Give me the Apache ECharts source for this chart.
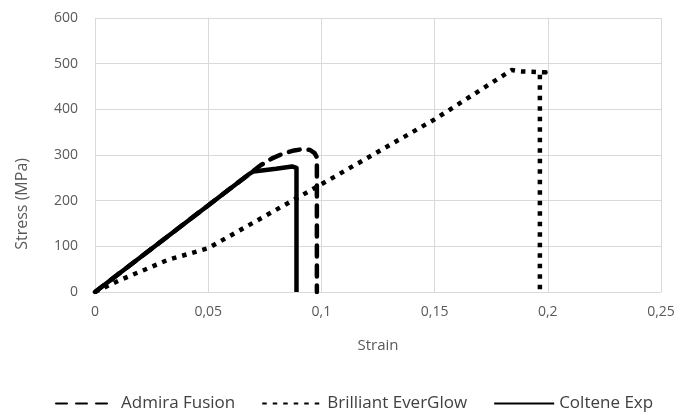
<!DOCTYPE html>
<html>
<head>
<meta charset="utf-8">
<script src="https://cdn.jsdelivr.net/npm/echarts@6/dist/echarts.min.js"></script>
<style>
  html, body { margin: 0; padding: 0; background: #fff; }
  #chart { width: 679px; height: 412px; }
</style>
</head>
<body>
<div id="chart"></div>
<script>
// stress-strain curves
const seriesNames = ['Admira Fusion', 'Brilliant EverGlow', 'Coltene Exp']

const admiraStrain = [0, 0.068, 0.073, 0.078, 0.083, 0.088, 0.092, 0.095, 0.097, 0.098, 0.098]
const admiraStress = [0, 258, 277, 292, 303, 310, 313, 311, 304, 295, 0]

const brilliantStrain = [0, 0.011, 0.023, 0.032, 0.05, 0.1, 0.15, 0.184, 0.188, 0.199, 0.1965, 0.1965]
const brilliantStress = [0, 26, 51, 70, 96, 236, 378, 486, 483, 481, 478, 0]

const colteneStrain = [0, 0.068, 0.07, 0.08, 0.087, 0.089, 0.089]
const colteneStress = [0, 258, 264, 270, 275, 272, 0]

const xTicks = [0, 0.05, 0.1, 0.15, 0.2, 0.25]
const yTicks = [0, 100, 200, 300, 400, 500, 600]

const pairs = (xs, ys) => xs.map((x, i) => [x, ys[i]])

const textColor = '#595959'
const fontFamily = '"Open Sans", "Liberation Sans", sans-serif'

const chart = echarts.init(document.getElementById('chart'), null, { renderer: 'canvas' })

const lineSeries = (name, data, type, cap) => ({
  name: name,
  type: 'line',
  data: data,
  showSymbol: false,
  symbol: 'none',
  smooth: false,
  lineStyle: { color: '#000', width: 4.5, type: type, cap: cap, join: 'round' },
  itemStyle: { color: '#000' }
})

chart.setOption({
  animation: false,
  textStyle: { fontFamily: fontFamily },
  grid: { left: 95, right: 18, top: 18, bottom: 120 },
  xAxis: {
    type: 'value',
    min: xTicks[0],
    max: xTicks[xTicks.length - 1],
    interval: 0.05,
    name: 'Strain',
    nameLocation: 'middle',
    nameGap: 46,
    nameTextStyle: { color: textColor, fontSize: 15 },
    axisLine: { show: true, lineStyle: { color: '#d9d9d9' } },
    axisTick: { show: false },
    axisLabel: {
      color: textColor,
      fontSize: 14,
      margin: 13,
      formatter: v => String(+v.toFixed(2)).replace('.', ',')
    },
    splitLine: { show: true, lineStyle: { color: '#d9d9d9', width: 1 } }
  },
  yAxis: {
    type: 'value',
    min: yTicks[0],
    max: yTicks[yTicks.length - 1],
    interval: 100,
    axisLine: { show: false },
    axisTick: { show: false },
    axisLabel: { color: textColor, fontSize: 14, margin: 17 },
    splitLine: { show: true, lineStyle: { color: '#d9d9d9', width: 1 } }
  },
  // y title sits below the plot middle in the original
  graphic: [{
    type: 'text',
    left: 14,
    top: 158,
    rotation: Math.PI / 2,
    style: {
      text: 'Stress (MPa)',
      fill: textColor,
      font: '16px ' + fontFamily
    }
  }],
  legend: {
    data: seriesNames,
    top: 390,
    left: 50,
    itemWidth: 60,
    itemHeight: 10,
    itemGap: 26,
    itemStyle: { opacity: 0 },
    textStyle: { color: '#404040', fontSize: 17 }
  },
  series: [
    lineSeries(seriesNames[0], pairs(admiraStrain, admiraStress), [11, 9], 'round'),
    lineSeries(seriesNames[1], pairs(brilliantStrain, brilliantStress), [4.5, 6], 'butt'),
    lineSeries(seriesNames[2], pairs(colteneStrain, colteneStress), 'solid', 'butt')
  ]
})
</script>
</body>
</html>
